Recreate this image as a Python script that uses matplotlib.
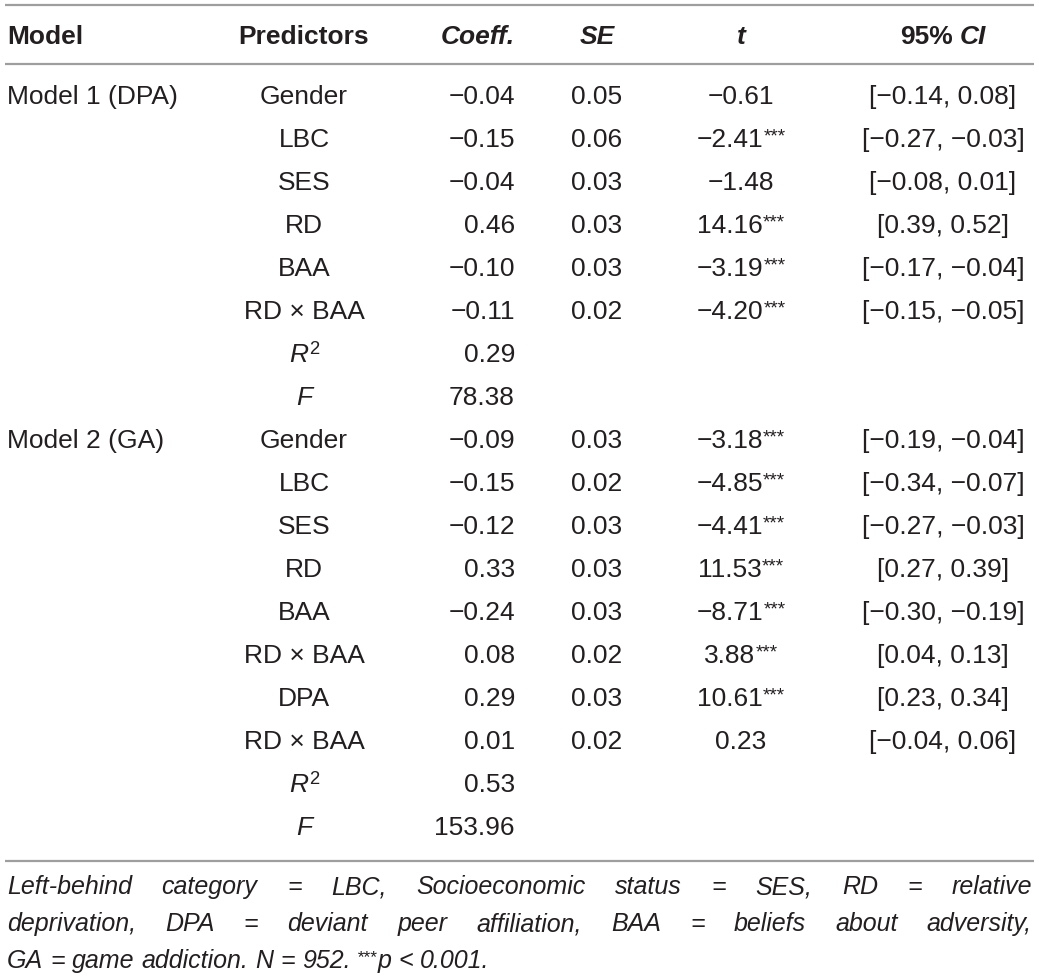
import matplotlib.pyplot as plt

# table content
models = ["Model 1 (DPA)", "", "", "", "", "", "", "",
          "Model 2 (GA)", "", "", "", "", "", "", "", "", ""]
predictors = ["Gender", "LBC", "SES", "RD", "BAA", "RD × BAA", "R2", "F",
              "Gender", "LBC", "SES", "RD", "BAA", "RD × BAA", "DPA", "RD × BAA", "R2", "F"]
coeff = ["−0.04", "−0.15", "−0.04", "0.46", "−0.10", "−0.11", "0.29", "78.38",
         "−0.09", "−0.15", "−0.12", "0.33", "−0.24", "0.08", "0.29", "0.01", "0.53", "153.96"]
se = ["0.05", "0.06", "0.03", "0.03", "0.03", "0.02", "", "",
      "0.03", "0.02", "0.03", "0.03", "0.03", "0.02", "0.03", "0.02", "", ""]
t_vals = ["−0.61", "−2.41", "−1.48", "14.16", "−3.19", "−4.20", "", "",
          "−3.18", "−4.85", "−4.41", "11.53", "−8.71", "3.88", "10.61", "0.23", "", ""]
t_sig = [False, True, False, True, True, True, False, False,
         True, True, True, True, True, True, True, False, False, False]
ci = ["[−0.14, 0.08]", "[−0.27, −0.03]", "[−0.08, 0.01]", "[0.39, 0.52]",
      "[−0.17, −0.04]", "[−0.15, −0.05]", "", "",
      "[−0.19, −0.04]", "[−0.34, −0.07]", "[−0.27, −0.03]", "[0.27, 0.39]",
      "[−0.30, −0.19]", "[0.04, 0.13]", "[0.23, 0.34]", "[−0.04, 0.06]", "", ""]
note_lines = [
    "Left-behind category = LBC, Socioeconomic status = SES, RD = relative",
    "deprivation, DPA = deviant peer affiliation, BAA = beliefs about adversity,",
]
note_last = ["GA = game addiction. N = 952.", "***", "p < 0.001."]

W, H = 1039, 980
fig = plt.figure(figsize=(W / 100, H / 100), dpi=100)
ax = fig.add_axes([0, 0, 1, 1])
ax.set_xlim(0, W)
ax.set_ylim(H, 0)
ax.axis("off")
r = fig.canvas.get_renderer()

ink = "#231f20"
body = dict(family="Liberation Sans", fontsize=19, color=ink)
note = dict(family="Liberation Sans", fontsize=18, style="italic", color=ink)


def width(t):
    return t.get_window_extent(renderer=r).width


def runs(x, y, parts, ha="left"):
    # parts: (text, props, raise in px) or a number for a blank gap
    objs = []
    for p in parts:
        if isinstance(p, (int, float)):
            objs.append(p)
        else:
            s, kw, dy = p
            objs.append(ax.text(0, y - dy, s, va="baseline", ha="left", **kw))
    ws = [o if isinstance(o, (int, float)) else width(o) for o in objs]
    total = sum(ws)
    x0 = {"left": x, "center": x - total / 2, "right": x - total}[ha]
    for o, w in zip(objs, ws):
        if not isinstance(o, (int, float)):
            o.set_x(x0)
        x0 += w


def sup(kw, f=0.68):
    k = dict(kw)
    k["fontsize"] = kw["fontsize"] * f
    return k


def space_of(kw):
    a = ax.text(0, 0, "a a", **kw)
    b = ax.text(0, 0, "aa", **kw)
    s = width(a) - width(b)
    a.remove()
    b.remove()
    return s


# rules
for yy in [5, 64, 861]:
    ax.plot([5, 1034], [yy, yy], color="#9e9e9e", lw=1.6, solid_capstyle="butt")

# header
hb = dict(body, weight="bold")
hbi = dict(hb, style="italic")
ax.text(7, 44, "Model", ha="left", va="baseline", **hb)
ax.text(304, 44, "Predictors", ha="center", va="baseline", **hb)
ax.text(515, 44, "Coeff.", ha="right", va="baseline", **hbi)
ax.text(597, 44, "SE", ha="center", va="baseline", **hbi)
ax.text(741, 44, "t", ha="center", va="baseline", **hbi)
runs(943, 44, [("95%", hb, 0), space_of(hb), ("CI", hbi, 0)], ha="center")

# rows
ital = dict(body, style="italic")
for i in range(len(predictors)):
    y = 104 + 43 * i
    if models[i]:
        ax.text(7, y, models[i], ha="left", va="baseline", **body)
    p = predictors[i]
    if p == "R2":
        runs(304, y, [("R", ital, 0), 1, ("2", sup(body, 0.7), 8)], ha="center")
    elif p == "F":
        ax.text(304, y, p, ha="center", va="baseline", **ital)
    else:
        ax.text(304, y, p, ha="center", va="baseline", **body)
    ax.text(515, y, coeff[i], ha="right", va="baseline", **body)
    if se[i]:
        ax.text(597, y, se[i], ha="center", va="baseline", **body)
    if t_vals[i]:
        parts = [(t_vals[i], body, 0)]
        if t_sig[i]:
            parts.append(("***", sup(body, 0.72), 6))
        runs(741, y, parts, ha="center")
    if ci[i]:
        ax.text(943, y, ci[i], ha="center", va="baseline", **body)

# footnote, first two lines justified
left, right = 7, 1032
for k, line in enumerate(note_lines):
    y = 894 + 37 * k
    words = line.split(" ")
    objs = [ax.text(0, y, w, va="baseline", ha="left", **note) for w in words]
    ws = [width(t) for t in objs]
    gap = (right - left - sum(ws)) / (len(words) - 1)
    x = left
    for t, w in zip(objs, ws):
        t.set_x(x)
        x += w + gap

sp = space_of(note)
parts = []
for w in note_last[0].split(" "):
    parts += [(w, note, 0), sp]
parts.append((note_last[1], sup(note, 0.7), 6))
for j, w in enumerate(note_last[2].split(" ")):
    if j:
        parts.append(sp)
    parts.append((w, note, 0))
runs(left, 968, parts, ha="left")

fig.savefig("out.png", dpi=100)
